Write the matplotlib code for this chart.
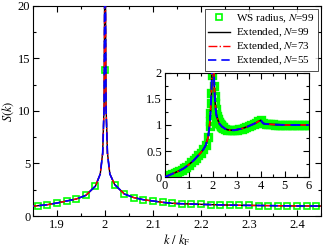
import matplotlib
matplotlib.use("Agg")
import matplotlib.pyplot as plt
from matplotlib.ticker import MultipleLocator, FormatStrFormatter

plt.rcParams['font.family'] = ['Liberation Serif', 'DejaVu Serif']
plt.rcParams['mathtext.fontset'] = 'stix'
plt.rcParams['font.size'] = 9

# WS radius data (N=99), squares
k_ws = [0.0, 0.1, 0.2, 0.3, 0.4, 0.5, 0.6, 0.7, 0.8, 0.9, 1.0, 1.1, 1.2, 1.3,
        1.4, 1.5, 1.6, 1.7, 1.8,
        1.86, 1.88, 1.90, 1.92, 1.94, 1.96, 1.98, 2.00, 2.02, 2.04, 2.06,
        2.08, 2.10, 2.12, 2.14, 2.16, 2.18, 2.20, 2.22, 2.24, 2.26, 2.28,
        2.30, 2.32, 2.34, 2.36, 2.38, 2.40, 2.42, 2.44,
        2.5, 2.6, 2.7, 2.8, 2.9, 3.0, 3.1, 3.2, 3.3, 3.4, 3.5, 3.6, 3.7,
        3.8, 3.9, 4.0, 4.1, 4.2, 4.3, 4.4, 4.5, 4.6, 4.7, 4.8, 4.9, 5.0,
        5.1, 5.2, 5.3, 5.4, 5.5, 5.6, 5.7, 5.8, 5.9, 6.0]
s_ws = [0.0, 0.02, 0.04, 0.06, 0.08, 0.10, 0.12, 0.14, 0.17, 0.20, 0.24, 0.28, 0.32, 0.37,
        0.42, 0.47, 0.53, 0.61, 0.76,
        0.98, 1.08, 1.24, 1.43, 1.62, 1.97, 2.85, 13.9, 3.0, 2.1, 1.75,
        1.55, 1.43, 1.30, 1.21, 1.17, 1.14, 1.11, 1.08, 1.06, 1.04, 1.02,
        1.01, 1.00, 0.99, 0.98, 0.97, 0.96, 0.96, 0.95,
        0.93, 0.91, 0.90, 0.90, 0.90, 0.91, 0.92, 0.93, 0.95, 0.96, 0.98, 1.00, 1.02,
        1.04, 1.07, 1.09, 1.03, 1.02, 1.01, 1.01, 1.01, 1.00, 1.00, 1.00, 1.00, 1.00,
        1.00, 1.00, 1.00, 1.00, 1.00, 1.00, 1.00, 1.00, 1.00, 1.00]

# extended calculations, lines
k_ext = [0.0, 0.2, 0.4, 0.6, 0.8, 1.0, 1.2, 1.4, 1.5, 1.6, 1.7, 1.8, 1.85,
         1.86, 1.88, 1.90, 1.92, 1.94, 1.96, 1.98, 1.99, 1.995, 1.998, 2.0,
         2.002, 2.005, 2.01, 2.02, 2.04, 2.06, 2.08, 2.10, 2.12, 2.14, 2.16,
         2.18, 2.20, 2.24, 2.28, 2.32, 2.36, 2.40, 2.45, 2.5, 2.6, 2.7, 2.8,
         2.9, 3.0, 3.2, 3.4, 3.6, 3.8, 3.9, 4.0, 4.1, 4.2, 4.5, 5.0, 5.5, 6.0]
s_ext99 = [0.0, 0.04, 0.08, 0.12, 0.17, 0.24, 0.32, 0.42, 0.47, 0.53, 0.61, 0.76, 0.94,
           0.98, 1.08, 1.24, 1.43, 1.62, 1.97, 2.85, 4.0, 6.0, 10.5, 30.0,
           10.5, 6.0, 4.0, 3.0, 2.1, 1.75, 1.55, 1.43, 1.30, 1.21, 1.17,
           1.14, 1.11, 1.06, 1.02, 1.00, 0.98, 0.96, 0.95, 0.93, 0.91, 0.90, 0.90,
           0.90, 0.91, 0.93, 0.96, 1.00, 1.04, 1.07, 1.09, 1.03, 1.02, 1.01, 1.00, 1.00, 1.00]
s_ext73 = [0.0, 0.04, 0.08, 0.12, 0.17, 0.24, 0.32, 0.42, 0.47, 0.53, 0.61, 0.76, 0.94,
           0.98, 1.08, 1.24, 1.43, 1.62, 1.97, 2.85, 4.0, 6.0, 10.4, 29.0,
           10.4, 6.0, 4.0, 3.0, 2.1, 1.75, 1.55, 1.43, 1.30, 1.21, 1.17,
           1.14, 1.11, 1.06, 1.02, 1.00, 0.98, 0.96, 0.95, 0.93, 0.91, 0.90, 0.90,
           0.90, 0.91, 0.93, 0.96, 1.00, 1.04, 1.07, 1.09, 1.03, 1.02, 1.01, 1.00, 1.00, 1.00]
s_ext55 = [0.0, 0.04, 0.08, 0.12, 0.17, 0.24, 0.32, 0.42, 0.47, 0.53, 0.61, 0.76, 0.94,
           0.98, 1.08, 1.24, 1.43, 1.62, 1.97, 2.85, 4.0, 5.9, 10.3, 28.0,
           10.3, 5.9, 4.0, 3.0, 2.1, 1.75, 1.55, 1.43, 1.30, 1.21, 1.17,
           1.14, 1.11, 1.06, 1.02, 1.00, 0.98, 0.96, 0.95, 0.93, 0.91, 0.90, 0.90,
           0.90, 0.91, 0.93, 0.96, 1.00, 1.04, 1.07, 1.09, 1.03, 1.02, 1.01, 1.00, 1.00, 1.00]

green = '#00ff00'

fig = plt.figure(figsize=(3.24, 2.49), dpi=100)
ax = fig.add_axes([0.102, 0.1325, 0.889, 0.8435])


def draw(a, ms, mew, lw):
    a.plot(k_ws, s_ws, 's', mfc='none', mec=green, ms=ms, mew=mew,
           label=r'WS radius, $N$=99', zorder=2)
    a.plot(k_ext, s_ext99, '-', color='k', lw=lw, label=r'Extended, $N$=99', zorder=3)
    a.plot(k_ext, s_ext73, '-.', color='r', lw=lw, label=r'Extended, $N$=73', zorder=4)
    a.plot(k_ext, s_ext55, '--', color='b', lw=lw + 0.2, dashes=(5, 3),
           label=r'Extended, $N$=55', zorder=5)
    a.tick_params(which='both', direction='in', top=True, right=True, pad=2)
    a.tick_params(which='major', length=4, width=0.8)
    a.tick_params(which='minor', length=2, width=0.8)


draw(ax, 4.5, 1.2, 1.0)
ax.set_xlim(1.85, 2.45)
ax.set_ylim(0, 20)
ax.xaxis.set_major_locator(MultipleLocator(0.1))
ax.xaxis.set_minor_locator(MultipleLocator(0.05))
ax.yaxis.set_major_locator(MultipleLocator(5))
ax.yaxis.set_minor_locator(MultipleLocator(2.5))
ax.xaxis.set_major_formatter(FormatStrFormatter('%g'))
ax.set_xlabel(r'$k\ /\ k_\mathrm{F}$', labelpad=1)
ax.set_ylabel(r'$S(k)$', labelpad=1)

leg = ax.legend(loc='upper right', fontsize=8, frameon=True, fancybox=False,
                edgecolor='k', handlelength=2.0, handletextpad=0.5,
                borderpad=0.3, labelspacing=0.15, borderaxespad=0.3)
leg.get_frame().set_linewidth(0.6)

ins = fig.add_axes([0.509, 0.289, 0.444, 0.418])
draw(ins, 4.2, 2.4, 1.2)
ins.set_xlim(0, 6)
ins.set_ylim(0, 2)
ins.xaxis.set_major_locator(MultipleLocator(1))
ins.xaxis.set_minor_locator(MultipleLocator(0.5))
ins.yaxis.set_major_locator(MultipleLocator(0.5))
ins.yaxis.set_minor_locator(MultipleLocator(0.25))
ins.yaxis.set_major_formatter(FormatStrFormatter('%g'))

fig.savefig('out.png', dpi=100)
